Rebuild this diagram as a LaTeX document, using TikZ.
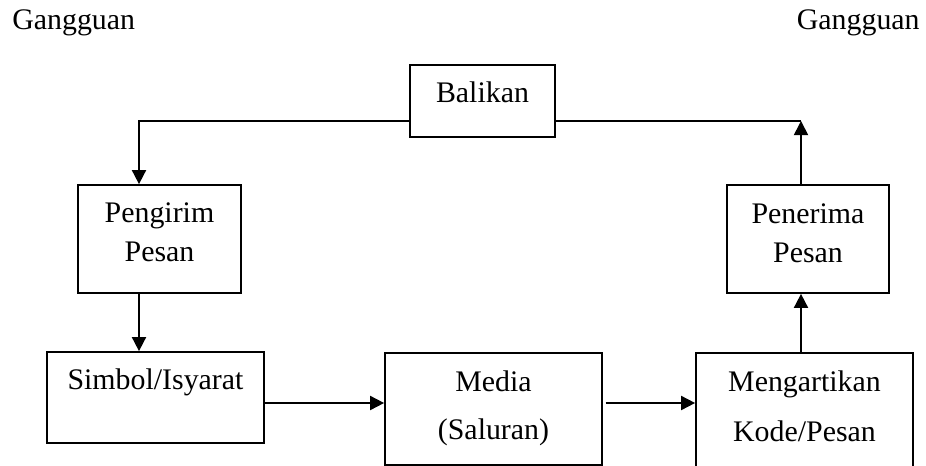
\documentclass[tikz,border=0pt]{standalone}
\usepackage{fontspec}
\setmainfont{Liberation Serif}
\usetikzlibrary{
  arrows.meta,
  calc
}
\tikzset{
  % Kotak
  box/.style   = {draw, line width=1pt, inner sep=0pt},
  % Teks
  txt/.style   = {font=\fontsize{17}{20}\selectfont, anchor=base, inner sep=0pt},
  % Garis dan panah
  wire/.style  = {line width=1pt},
  arr/.style   = {line width=1pt, -{Triangle[width=8pt,length=8pt]}},
}
\begin{document}
\begin{tikzpicture}[x=0.02cm, y=-0.02cm]
  \clip (0,0) rectangle (926,466);
  % Gangguan
  \node[txt, anchor=base west] (ganggL) at (12,30) {Gangguan};
  \node[txt, anchor=base east] (ganggR) at (920,30) {Gangguan};
  % Kotak-kotak
  \node[box, minimum width=2.9cm,  minimum height=1.44cm] (balikan)  at (482.5,101) {};
  \node[box, minimum width=3.26cm, minimum height=2.16cm] (pengirim) at (159.5,239) {};
  \node[box, minimum width=3.24cm, minimum height=2.16cm] (penerima) at (808,239) {};
  \node[box, minimum width=4.34cm, minimum height=1.82cm] (simbol)   at (155.5,397.5) {};
  \node[box, minimum width=4.34cm, minimum height=2.24cm] (media)    at (493.5,409) {};
  \node[box, minimum width=4.34cm, minimum height=2.94cm] (arti)     at (804.5,426.5) {};
  % Teks di dalam kotak
  \node[txt] (balikanT)  at ($(balikan.north)+(0,38)$)  {Balikan};
  \node[txt] (pengirimA) at ($(pengirim.north)+(0,38)$) {Pengirim};
  \node[txt] (pengirimB) at ($(pengirim.north)+(0,77)$) {Pesan};
  \node[txt] (penerimaA) at ($(penerima.north)+(0,39)$) {Penerima};
  \node[txt] (penerimaB) at ($(penerima.north)+(0,78)$) {Pesan};
  \node[txt] (simbolT)   at ($(simbol.north)+(0,38)$)   {Simbol/Isyarat};
  \node[txt] (mediaA)    at ($(media.north)+(0,39)$)    {Media};
  \node[txt] (mediaB)    at ($(media.north)+(0,87)$)    {(Saluran)};
  \node[txt] (artiA)     at ($(arti.north)+(0,39)$)     {Mengartikan};
  \node[txt] (artiB)     at ($(arti.north)+(0,89)$)     {Kode/Pesan};
  % Titik bantu
  \coordinate (lx) at (139,121);
  \coordinate (rx) at (801,121);
  \coordinate (hy) at (0,403);
  % Garis balikan
  \draw[arr]  (balikan.west |- lx) -- (lx) -- (pengirim.north -| lx);
  \draw[wire] (balikan.east |- rx) -- (rx);
  \draw[arr]  (penerima.north -| rx) -- (rx);
  % Alur pesan
  \draw[arr] (pengirim.south -| lx) -- (simbol.north -| lx);
  \draw[arr] (simbol.east |- hy) -- (media.west |- hy);
  \draw[arr, shorten <=1.5pt] (media.east |- hy) -- (arti.west |- hy);
  \draw[arr] (arti.north -| rx) -- (penerima.south -| rx);
\end{tikzpicture}
\end{document}
